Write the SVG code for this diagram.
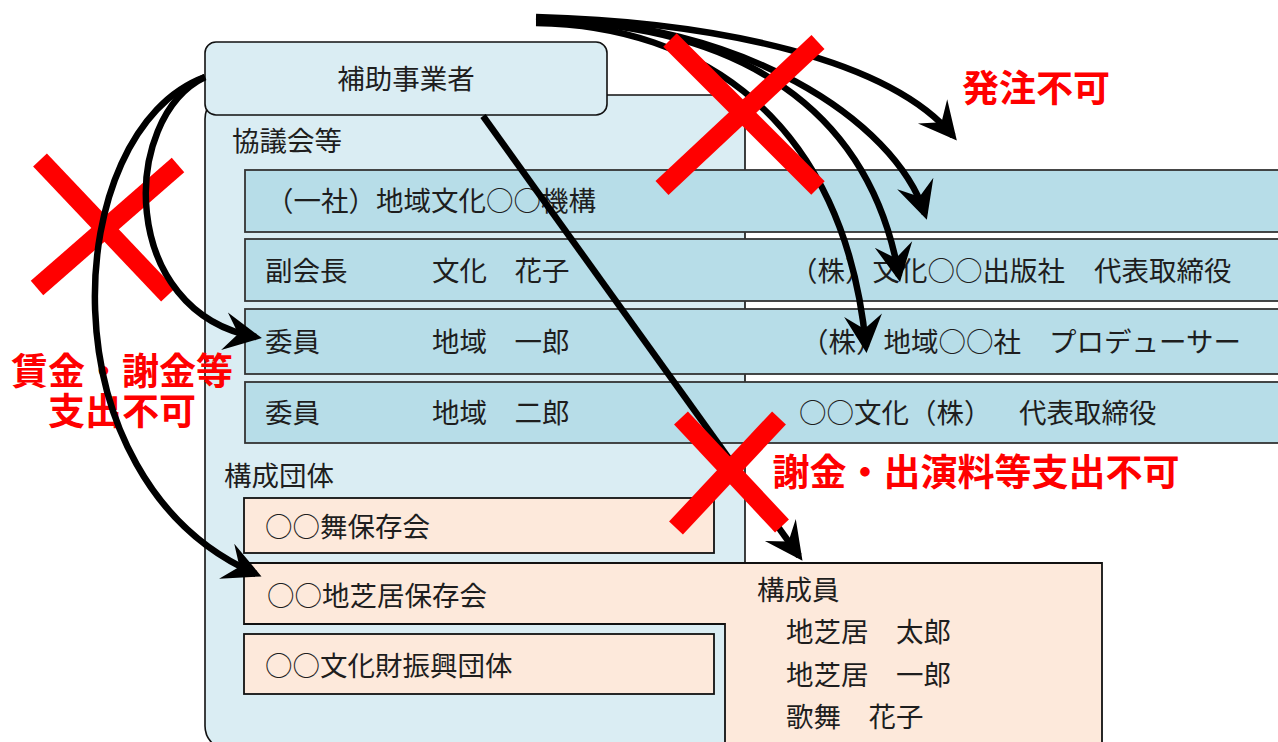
<svg xmlns="http://www.w3.org/2000/svg" width="1278" height="742" viewBox="0 0 1278 742">
<style>
.t{font-family:"Noto Sans CJK JP","Noto Sans CJK SC",sans-serif;font-size:27.5px;fill:#1e1e1e}
.r{font-family:"Noto Sans CJK JP","Noto Sans CJK SC",sans-serif;font-size:37px;font-weight:bold;fill:#ff0000}
.cont{fill:#daedf3;stroke:#111;stroke-width:1.6}
.row{fill:#b7dde8;stroke:#333;stroke-width:1.8}
.org{fill:#fde9db;stroke:#111;stroke-width:1.8}
.arr{fill:none;stroke:#000;stroke-width:6.5;marker-end:url(#ah)}
.x{stroke:#ff0000;stroke-width:19;stroke-linecap:butt}
</style>
<defs>
<marker id="ah" markerUnits="userSpaceOnUse" orient="auto" refX="0" refY="0" overflow="visible">
<path d="M6,0 L-32,-19 L-18,0 L-32,19 Z" fill="#000"/>
</marker>
</defs>
<rect width="1278" height="742" fill="#fff"/>

<g id="container">
<rect class="cont" x="205" y="95" width="540" height="655" rx="24"/>
</g>
<g id="hojo">
<rect class="cont" x="205" y="42" width="402" height="73" rx="11"/>
<text class="t" x="406" y="89" text-anchor="middle">補助事業者</text>
</g>
<text class="t" x="232" y="151">協議会等</text>

<g id="row1">
<rect class="row" x="245" y="170" width="1060" height="62"/>
<text class="t" x="266" y="211">（一社）地域文化○○機構</text>
</g>
<g id="row2">
<rect class="row" x="245" y="239" width="1060" height="62"/>
<text class="t" x="265" y="281">副会長</text>
<text class="t" x="432" y="281">文化　花子</text>
<text class="t" x="790" y="281">（株）文化○○出版社</text>
<text class="t" x="1094" y="281">代表取締役</text>
</g>
<g id="row3">
<rect class="row" x="245" y="309" width="1060" height="65"/>
<text class="t" x="265" y="352">委員</text>
<text class="t" x="432" y="352">地域　一郎</text>
<text class="t" x="801" y="352">（株）地域○○社</text>
<text class="t" x="1049" y="352">プロデューサー</text>
</g>
<g id="row4">
<rect class="row" x="245" y="382" width="1060" height="61"/>
<text class="t" x="265" y="423">委員</text>
<text class="t" x="432" y="423">地域　二郎</text>
<text class="t" x="799" y="423">○○文化（株）</text>
<text class="t" x="1019" y="423">代表取締役</text>
</g>

<text class="t" x="224" y="486">構成団体</text>
<g id="mai">
<rect class="org" x="244" y="498" width="470" height="55"/>
<text class="t" x="265" y="537">○○舞保存会</text>
</g>
<g id="jishibai">
<path class="org" d="M244,563 L1102,563 L1102,760 L725,760 L725,624 L244,624 Z"/>
<text class="t" x="267" y="606">○○地芝居保存会</text>
<text class="t" x="757" y="600">構成員</text>
<text class="t" x="786" y="642">地芝居　太郎</text>
<text class="t" x="786" y="685">地芝居　一郎</text>
<text class="t" x="786" y="727">歌舞　花子</text>
</g>
<g id="bunkazai">
<rect class="org" x="244" y="634" width="470" height="60"/>
<text class="t" x="265" y="676">○○文化財振興団体</text>
</g>

<g id="notes-left">
<line class="x" x1="40" y1="160" x2="168" y2="295"/>
<line class="x" x1="178" y1="165" x2="37" y2="288"/>
<text class="r" x="122" y="385" text-anchor="middle">賃金・謝金等</text>
<text class="r" x="122" y="425" text-anchor="middle">支出不可</text>
</g>

<g id="connectors">
<path class="arr" d="M205,77 C120,118 118,312 256,337"/>
<path class="arr" d="M205,77 C60,130 40,480 256,574"/>
<path class="arr" d="M483,116 L799,556"/>
<path class="arr" d="M536,17 C720,22 890,60 953,136"/>
<path class="arr" d="M536,19 C740,20 895,120 925,214"/>
<path class="arr" d="M536,21 C740,22 870,110 899,276"/>
<path class="arr" d="M536,23 C700,25 845,120 866,347"/>
</g>

<g id="notes-right">
<line class="x" x1="670" y1="40" x2="818" y2="188"/>
<line class="x" x1="818" y1="42" x2="662" y2="188"/>
<line class="x" x1="681" y1="418" x2="782" y2="526"/>
<line class="x" x1="779" y1="418" x2="676" y2="528"/>
<text class="r" x="962" y="102">発注不可</text>
<text class="r" x="976" y="486" text-anchor="middle">謝金・出演料等支出不可</text>
</g>
</svg>
